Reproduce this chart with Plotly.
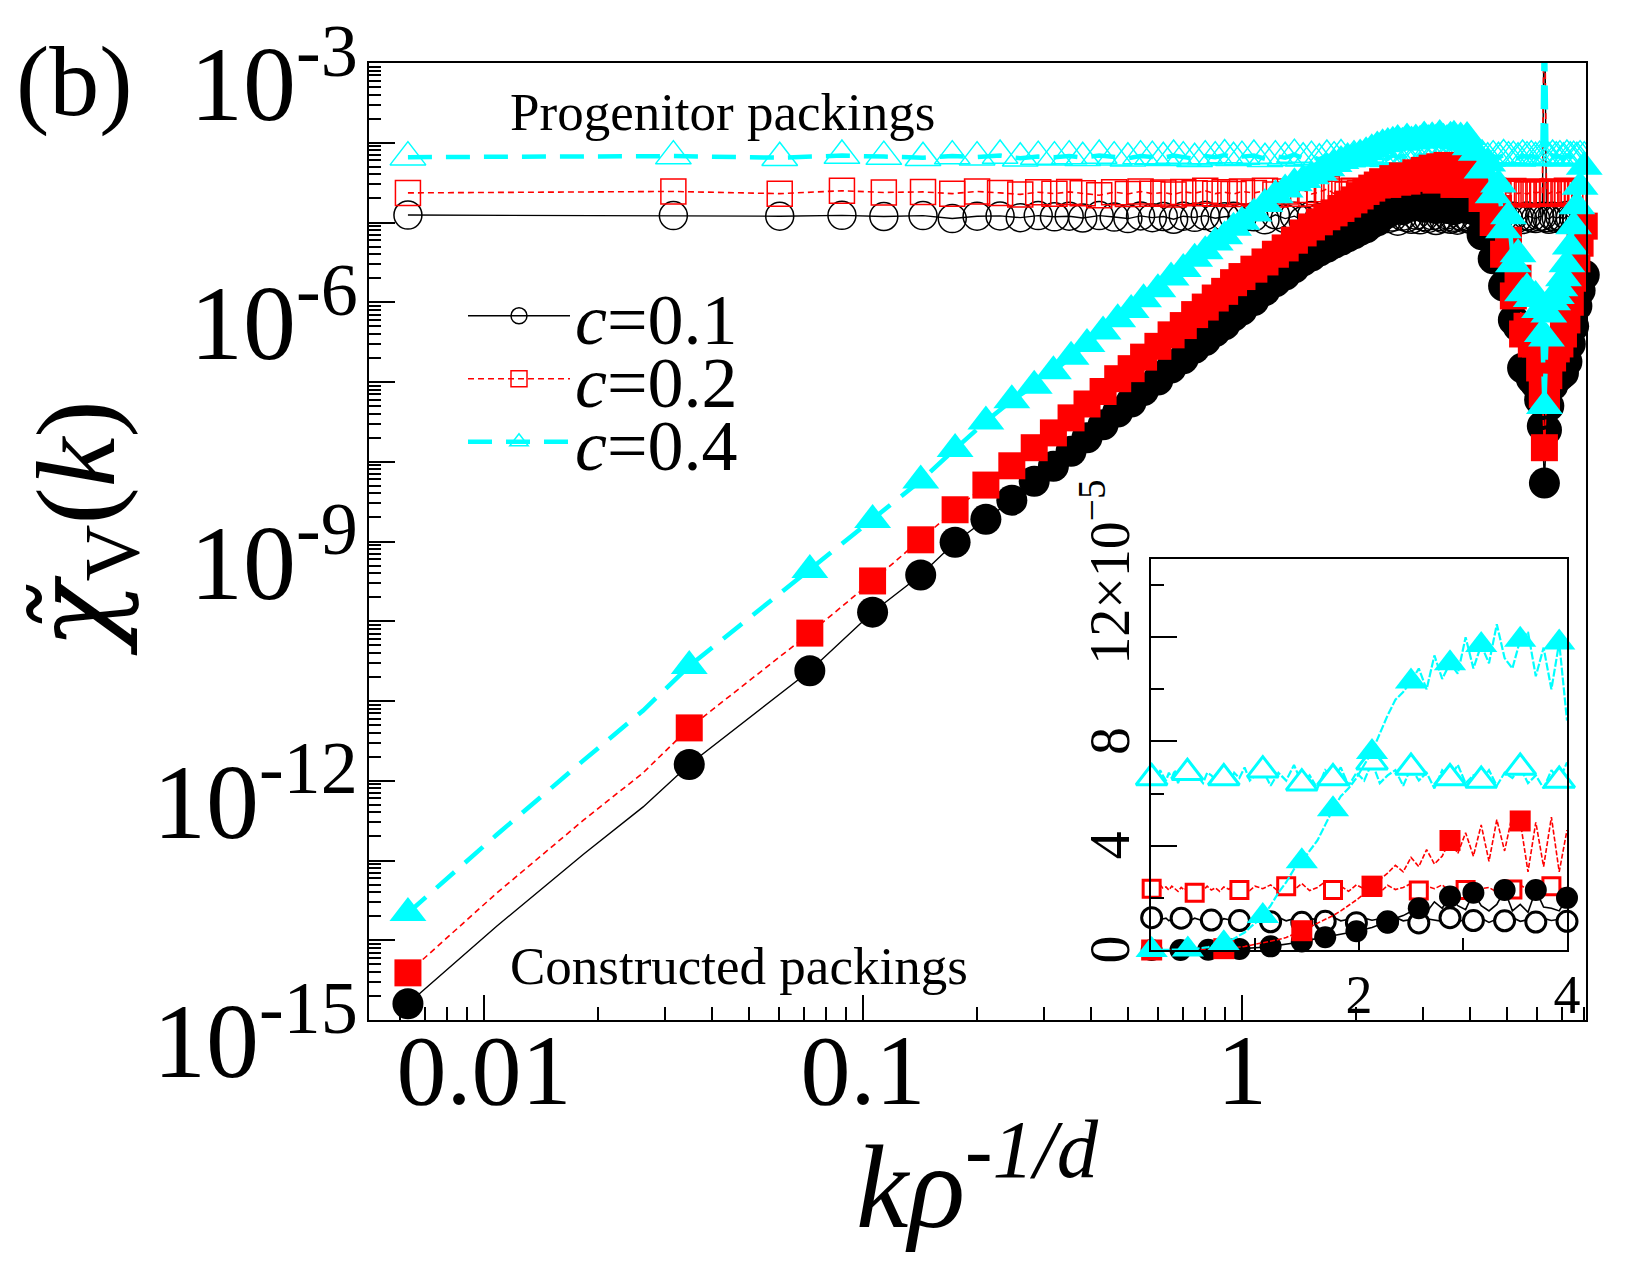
import plotly.graph_objects as go

FONT = "Liberation Serif"

# ---------------- data (k rho^{-1/d}) ----------------
K_PROG_LOW = [0.0063, 0.0316, 0.0603, 0.088, 0.1135, 0.144, 0.172, 0.2, 0.23, 0.26, 0.29, 0.32,
              0.35, 0.38, 0.42, 0.46, 0.50, 0.54, 0.58, 0.62, 0.66, 0.70, 0.75, 0.80, 0.85, 0.90, 0.95, 1.00]
K_CONS_LOW = [0.0063, 0.0108, 0.0183, 0.0263, 0.0348, 0.0724, 0.106, 0.142, 0.175, 0.211, 0.247,
              0.283, 0.318, 0.354, 0.39, 0.43, 0.47, 0.51, 0.55, 0.6, 0.65, 0.7, 0.75, 0.8, 0.85, 0.9, 0.95, 1.0]
K_HIGH = [1.075, 1.15, 1.225, 1.3, 1.375, 1.45, 1.525, 1.6, 1.675, 1.75,
          1.825, 1.9, 1.975, 2.05, 2.125, 2.2, 2.275, 2.35, 2.425, 2.5,
          2.575, 2.65, 2.725, 2.8, 2.875, 2.95, 3.025, 3.1, 3.175, 3.25,
          3.325, 3.4, 3.475, 3.55, 3.625, 3.7, 3.775, 3.85, 3.925, 4.0,
          4.15, 4.3, 4.45, 4.6, 4.75, 4.9, 5.05, 5.2, 5.35, 5.5,
          5.65, 5.8, 5.95, 6.1, 6.2, 6.28, 6.36, 6.45, 6.6, 6.75,
          6.9, 7.05, 7.2, 7.35, 7.5, 7.65, 7.8, 8.0]
K_PROG = K_PROG_LOW + K_HIGH
K_CONS = K_CONS_LOW + K_HIGH

# spectral density values in units of 1e-5
PROG_C01 = [1.24, 1.22, 1.20, 1.23, 1.19, 1.22, 1.12, 1.20, 1.21, 1.15, 1.22, 1.18,
            1.20, 1.14, 1.22, 1.17, 1.12, 1.21, 1.15, 1.19, 1.10, 1.20, 1.16, 1.22, 1.13, 1.18, 1.20, 1.14,
            1.18, 1.08, 1.25, 1.12, 1.20, 1.06, 1.22, 1.15, 1.10, 1.26,
            1.12, 1.18, 1.05, 1.22, 1.14, 1.20, 1.08, 1.25, 1.12, 1.17,
            1.04, 1.20, 1.15, 1.10, 1.24, 1.08, 1.18, 1.13, 1.22, 1.06,
            1.19, 1.12, 1.25, 1.10, 1.16, 1.07, 1.21, 1.13, 1.18, 1.10,
            1.15, 1.20, 1.08, 1.22, 1.12, 1.18, 1.10, 1.20, 1.14, 1.09,
            1.21, 1.15, 1.12, 1.18, 1.20, 1000.0, 1.15, 1.10, 1.20, 1.13,
            1.18, 1.10, 1.22, 1.14, 1.17, 1.10, 1.20, 1.15]
PROG_C02 = [2.35, 2.45, 2.30, 2.50, 2.38, 2.42, 2.30, 2.45, 2.35, 2.25, 2.40, 2.30,
            2.42, 2.32, 2.20, 2.40, 2.28, 2.45, 2.30, 2.38, 2.25, 2.42, 2.33, 2.50, 2.30, 2.40, 2.28, 2.45,
            2.35, 2.50, 2.25, 2.45, 2.30, 2.55, 2.28, 2.40, 2.62, 2.30,
            2.45, 2.25, 2.50, 2.35, 2.42, 2.20, 2.48, 2.32, 2.40, 2.55,
            2.28, 2.45, 2.35, 2.50, 2.25, 2.42, 2.30, 2.55, 2.35, 2.40,
            2.22, 2.48, 2.32, 2.50, 2.30, 2.42, 2.28, 2.45, 2.35, 2.40,
            2.30, 2.45, 2.35, 2.50, 2.28, 2.42, 2.35, 2.48, 2.30, 2.40,
            2.25, 2.45, 2.35, 2.40, 2.30, 1000.0, 2.40, 2.30, 2.45, 2.35,
            2.42, 2.28, 2.50, 2.35, 2.40, 2.30, 2.45, 2.38]
PROG_C04 = [6.6, 6.8, 6.5, 6.9, 6.7, 6.5, 6.8, 6.6, 6.9, 6.4, 6.7, 6.6,
            6.8, 6.5, 6.9, 6.6, 6.4, 6.8, 6.7, 6.5, 6.9, 6.6, 6.3, 6.8, 6.6, 7.0, 6.5, 6.7,
            6.9, 6.3, 6.8, 6.5, 7.1, 6.4, 6.7, 6.2, 6.9, 6.6,
            7.0, 6.3, 6.8, 6.5, 7.2, 6.4, 6.7, 6.9, 6.3, 7.0,
            6.5, 6.8, 6.2, 6.9, 6.6, 7.1, 6.4, 6.7, 6.5, 6.9,
            6.3, 6.8, 6.6, 7.0, 6.4, 6.7, 6.2, 6.9, 6.5, 7.2,
            6.6, 6.9, 6.4, 6.8, 6.5, 7.0, 6.6, 6.7, 6.4, 6.9,
            6.6, 6.8, 6.5, 6.7, 6.6, 1000.0, 6.7, 6.5, 6.9, 6.6,
            6.8, 6.4, 6.9, 6.6, 6.7, 6.5, 6.8, 6.6]
CONS_C01 = [1.6e-10, 1.5e-9, 1.2e-8, 4.7e-8, 1.6e-7, 2.4e-6, 1.3e-5, 3.8e-5, 9.8e-5, 1.9e-4, 3.3e-4,
            5.7e-4, 8.8e-4, 1.35e-3, 2.0e-3, 2.9e-3, 4.2e-3, 5.6e-3, 7.8e-3, 0.0106, 0.0150, 0.0195,
            0.0265, 0.033, 0.043, 0.052, 0.067, 0.080,
            0.105, 0.14, 0.18, 0.22, 0.27, 0.33, 0.38, 0.44, 0.49, 0.55,
            0.60, 0.66, 0.72, 0.80, 0.86, 0.98, 1.05, 1.22, 1.32, 1.48,
            1.60, 1.45, 1.85, 1.60, 2.05, 1.70, 1.55, 2.20, 1.70, 1.50,
            1.75, 2.30, 1.50, 1.75, 1.45, 2.30, 1.65, 1.60, 1.50, 2.00,
            1.4, 0.7, 0.9, 0.35, 0.45, 0.16, 0.2, 0.06, 0.05, 0.015,
            0.014, 0.011, 0.0095, 0.006, 0.0028, 0.00054, 0.0025, 0.005, 0.009, 0.011,
            0.012, 0.013, 0.018, 0.03, 0.05, 0.09, 0.14, 0.22]
CONS_C02 = [3.9e-10, 3.9e-9, 3.2e-8, 1.26e-7, 4.6e-7, 7.1e-6, 3.2e-5, 1.05e-4, 2.5e-4, 5.1e-4, 8.9e-4,
            1.5e-3, 2.3e-3, 3.55e-3, 5.3e-3, 7.6e-3, 0.011, 0.0147, 0.0205, 0.028, 0.039, 0.051,
            0.070, 0.087, 0.113, 0.137, 0.176, 0.21,
            0.26, 0.32, 0.40, 0.48, 0.60, 0.74, 0.88, 1.02, 1.18, 1.32,
            1.50, 1.70, 1.92, 2.15, 2.45, 2.70, 2.95, 3.25, 3.00, 3.55,
            3.20, 3.85, 3.30, 3.60, 4.20, 3.70, 4.50, 3.60, 4.80, 3.40,
            5.00, 3.80, 5.20, 4.95, 3.00, 4.90, 3.20, 5.10, 3.00, 4.60,
            3.8, 2.0, 2.6, 1.0, 1.5, 0.4, 0.6, 0.12, 0.2, 0.04,
            0.05, 0.03, 0.03, 0.015, 0.007, 0.0015, 0.006, 0.012, 0.02, 0.026,
            0.03, 0.04, 0.06, 0.1, 0.2, 0.35, 0.55, 0.9]
CONS_C04 = [2.2e-9, 2.1e-8, 1.8e-7, 7.6e-7, 2.75e-6, 4.4e-5, 1.86e-4, 5.8e-4, 1.45e-3, 3.2e-3, 5.9e-3,
            9.0e-3, 0.0136, 0.0207, 0.030, 0.043, 0.061, 0.080, 0.109, 0.146, 0.204, 0.261,
            0.352, 0.436, 0.56, 0.67, 0.86, 1.02,
            1.3, 1.7, 2.2, 2.6, 3.1, 3.4, 3.8, 4.2, 4.8, 5.4,
            5.9, 6.2, 6.6, 7.1, 7.6, 8.3, 9.0, 9.6, 9.9, 10.3,
            10.8, 10.0, 11.3, 10.4, 11.0, 10.6, 12.0, 10.8, 11.7, 11.0,
            12.5, 11.2, 10.8, 11.9, 12.2, 10.5, 11.6, 10.0, 11.8, 8.8,
            7.5, 4.5, 5.5, 2.2, 3.0, 0.8, 1.2, 0.3, 0.4, 0.13,
            0.15, 0.11, 0.12, 0.08, 0.04, 0.005, 0.035, 0.07, 0.10, 0.12,
            0.15, 0.20, 0.30, 0.50, 0.90, 1.6, 2.8, 5.0]

for arr in (PROG_C01, PROG_C02, PROG_C04):
    assert len(arr) == len(K_PROG), len(arr)
for arr in (CONS_C01, CONS_C02, CONS_C04):
    assert len(arr) == len(K_CONS), len(arr)

CONCENTRATIONS = ["0.1", "0.2", "0.4"]
PROGENITOR = [PROG_C01, PROG_C02, PROG_C04]
CONSTRUCTED = [CONS_C01, CONS_C02, CONS_C04]
UNIT = 1e-5

Y_MAJOR_EXP = list(range(-15, -2))
Y_LABEL_EXP = [-15, -12, -9, -6, -3]
X_MAJOR = [0.01, 0.1, 1]
X_LABELS = ["0.01", "0.1", "1"]
INSET_Y_TICKS = [0, 4, 8, 12]
INSET_X_TICKS = [2, 4]

# ---------------- styles ----------------
STYLE = {
    "0.1": dict(color="#000000", dash="solid", width=1.4, in_dash="solid", in_width=1.6,
                open="circle-open", filled="circle", s_open=28, s_fill=31,
                in_sym="circle", in_s_open=20, in_s_fill=22, step_open=0.284, step_fill=0.284,
                legend="legend"),
    "0.2": dict(color="#ff0000", dash="6px,4px", width=1.6, in_dash="5px,2px", in_width=1.6,
                open="square-open", filled="square", s_open=25, s_fill=27,
                in_sym="square", in_s_open=17, in_s_fill=21, step_open=0.43, step_fill=0.71,
                legend="legend2"),
    "0.4": dict(color="#00ffff", dash="24px,14px", width=4.5, in_dash="8px,2px", in_width=2.2,
                open="triangle-up-open", filled="triangle-up", s_open=31, s_fill=32,
                in_sym="triangle-up", in_s_open=27, in_s_fill=28, step_open=0.355, step_fill=0.355,
                legend="legend3"),
}


def pick(ks, step, kmax=4.0):
    idx = []
    n = 0
    while n * step <= kmax + 1e-9:
        t = n * step
        i = min(range(len(ks)), key=lambda j: abs(ks[j] - t))
        if ks[i] <= kmax and i not in idx:
            idx.append(i)
        n += 1
    return idx


fig = go.Figure()

# ---------- main panel: progenitor packings ----------
for c, vals in zip(CONCENTRATIONS, PROGENITOR):
    st = STYLE[c]
    fig.add_trace(go.Scatter(
        x=K_PROG, y=[v * UNIT for v in vals], mode="lines+markers",
        line=dict(color=st["color"], width=st["width"], dash=st["dash"]),
        marker=dict(symbol=st["open"], size=st["s_open"], color=st["color"],
                    line=dict(width=1.5, color=st["color"])),
        name=f"<i>c</i>={c}", legend=st["legend"], showlegend=True,
        xaxis="x", yaxis="y"))

# ---------- main panel: constructed packings ----------
main_idx = [0] + list(range(4, len(K_CONS)))
for c, vals in zip(CONCENTRATIONS, CONSTRUCTED):
    st = STYLE[c]
    fig.add_trace(go.Scatter(
        x=K_CONS, y=[v * UNIT for v in vals], mode="lines",
        line=dict(color=st["color"], width=st["width"], dash=st["dash"]),
        showlegend=False, xaxis="x", yaxis="y"))
    fig.add_trace(go.Scatter(
        x=[K_CONS[i] for i in main_idx], y=[vals[i] * UNIT for i in main_idx], mode="markers",
        marker=dict(symbol=st["filled"], size=st["s_fill"], color=st["color"], line=dict(width=0)),
        showlegend=False, cliponaxis=False, xaxis="x", yaxis="y"))

# ---------- inset (linear) ----------
for kind, ks, group in (("open", K_PROG, PROGENITOR), ("fill", K_CONS, CONSTRUCTED)):
    for c, vals in zip(CONCENTRATIONS, group):
        st = STYLE[c]
        inside = [i for i, k in enumerate(ks) if k <= 4.0]
        fig.add_trace(go.Scatter(
            x=[ks[i] for i in inside], y=[vals[i] for i in inside], mode="lines",
            line=dict(color=st["color"], width=st["in_width"], dash=st["in_dash"]),
            showlegend=False, xaxis="x2", yaxis="y2"))
        sel = pick(ks, st["step_open"] if kind == "open" else st["step_fill"])
        if kind == "open":
            mk = dict(symbol=st["in_sym"], size=st["in_s_open"], color="white",
                      line=dict(width=3, color=st["color"]))
        else:
            mk = dict(symbol=st["in_sym"], size=st["in_s_fill"], color=st["color"], line=dict(width=0))
        fig.add_trace(go.Scatter(
            x=[ks[i] for i in sel], y=[vals[i] for i in sel], mode="markers",
            marker=mk, showlegend=False, cliponaxis=False, xaxis="x2", yaxis="y2"))

# ---------------- layout ----------------
W, H = 1650, 1275
L, R, T, B = 369, 64, 63, 255
pw, ph = W - L - R, H - T - B


def px_x(xpx):
    return (xpx - L) / pw


def px_y(ypx):
    return (H - B - ypx) / ph


x_minor = [m * 10 ** e for e in range(-3, 1) for m in range(2, 10)]
y_minor = [m * 10.0 ** e for e in range(-15, -3) for m in range(2, 10)]

axis_common = dict(showline=True, linecolor="black", linewidth=2, mirror=True, automargin=False,
                   showgrid=False, zeroline=False, ticks="inside", tickcolor="black", tickwidth=1.6)

sup_inset = '×10<sup>−5</sup>'
inset_y_text = ["0", "4", "8",
                '<span style="color:rgba(0,0,0,0)">' + sup_inset + '</span>12' + sup_inset]

fig.update_layout(
    width=W, height=H,
    margin=dict(l=L, r=R, t=T, b=B, pad=0, autoexpand=False),
    paper_bgcolor="white", plot_bgcolor="white",
    font=dict(family=FONT, color="black"),
    xaxis=dict(type="log", range=[-2.3034, 0.9077], domain=[0, 1], anchor="y",
               tickmode="array", tickvals=X_MAJOR, ticktext=X_LABELS, ticklen=25,
               tickfont=dict(size=100, family=FONT), ticklabelstandoff=-38,
               minor=dict(tickmode="array", tickvals=x_minor, ticks="inside", ticklen=13,
                          tickwidth=1.6, tickcolor="black"),
               **axis_common),
    yaxis=dict(type="log", range=[-15, -3], domain=[0, 1], anchor="x",
               tickmode="array", tickvals=[10.0 ** e for e in Y_MAJOR_EXP],
               ticktext=[f"10<sup>{e}</sup>" if e in Y_LABEL_EXP else "" for e in Y_MAJOR_EXP],
               ticklen=26, tickfont=dict(size=106, family=FONT), ticklabelstandoff=-12,
               ticklabelshift=20, ticklabeloverflow="allow",
               minor=dict(tickmode="array", tickvals=y_minor, ticks="inside", ticklen=12,
                          tickwidth=1.6, tickcolor="black"),
               **axis_common),
    xaxis2=dict(range=[0, 4], domain=[px_x(1151), px_x(1567)], anchor="y2",
                tickmode="array", tickvals=INSET_X_TICKS, ticktext=[str(v) for v in INSET_X_TICKS],
                ticklen=12, tickfont=dict(size=54, family=FONT), ticklabelstandoff=-4,
                minor=dict(tickmode="array", tickvals=[1, 3], ticks="inside", ticklen=12,
                           tickwidth=1.6, tickcolor="black"),
                **axis_common),
    yaxis2=dict(range=[0, 15], domain=[px_y(950), px_y(559)], anchor="x2",
                tickmode="array", tickvals=INSET_Y_TICKS, ticktext=inset_y_text, tickangle=-90,
                ticklen=26, tickfont=dict(size=56, family=FONT), ticklabelstandoff=-2,
                ticklabelshift=8, ticklabeloverflow="allow",
                minor=dict(tickmode="array", tickvals=[2, 6, 10, 14], ticks="inside", ticklen=13,
                           tickwidth=1.6, tickcolor="black"),
                **axis_common),
    showlegend=True,
)

leg_common = dict(xanchor="left", yanchor="middle", bgcolor="rgba(0,0,0,0)",
                  font=dict(size=72, family=FONT, color="black"), itemwidth=102,
                  borderwidth=0, tracegroupgap=0)
fig.update_layout(
    legend=dict(x=px_x(463), y=px_y(316), **leg_common),
    legend2=dict(x=px_x(463), y=px_y(379), **leg_common),
    legend3=dict(x=px_x(463), y=px_y(442), **leg_common),
)

# axis titles
fig.add_annotation(text="<i>k</i><i>ρ</i><sup><i>-1/d</i></sup>", xref="paper", yref="paper",
                   x=px_x(977), y=px_y(1178), xanchor="center", yanchor="middle", showarrow=False,
                   font=dict(size=118, family=FONT, color="black"))
fig.add_annotation(text='<i><span style="font-family:DejaVu Serif">χ̃</span></i><sub>V</sub>(<i>k</i>)',
                   xref="paper", yref="paper", x=px_x(82), y=px_y(528), textangle=-90,
                   xanchor="center", yanchor="middle", showarrow=False,
                   font=dict(size=112, family=FONT, color="black"))

fig.add_annotation(text="(b)", xref="paper", yref="paper", x=px_x(14), y=px_y(82),
                   xanchor="left", yanchor="middle", showarrow=False,
                   font=dict(size=100, family=FONT, color="black"))
fig.add_annotation(text="Progenitor packings", xref="paper", yref="paper", x=px_x(508), y=px_y(112),
                   xanchor="left", yanchor="middle", showarrow=False,
                   font=dict(size=53, family=FONT, color="black"))
fig.add_annotation(text="Constructed packings", xref="paper", yref="paper", x=px_x(508), y=px_y(966),
                   xanchor="left", yanchor="middle", showarrow=False,
                   font=dict(size=53, family=FONT, color="black"))

fig.write_html("out.html")
